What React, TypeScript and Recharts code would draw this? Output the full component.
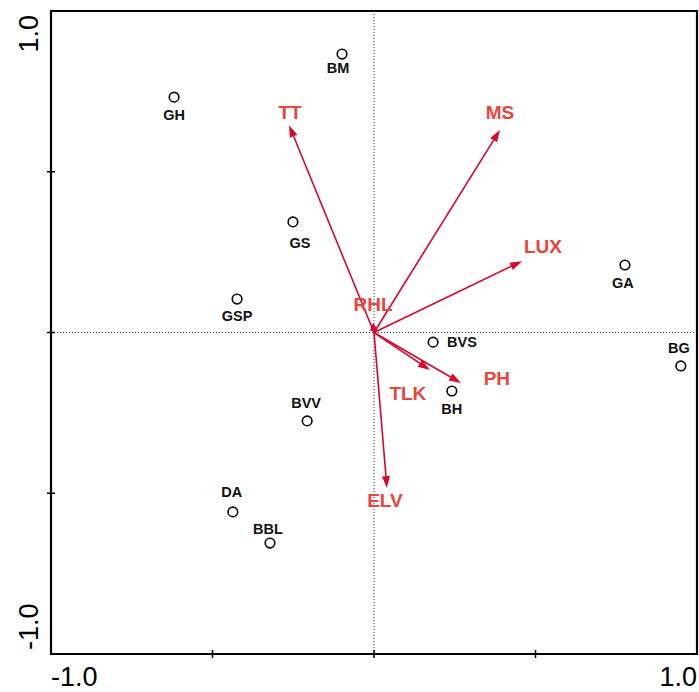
import React from 'react';
import { ScatterChart, Scatter, XAxis, YAxis, ReferenceLine, ReferenceArea } from 'recharts';

// sites (circles)
const siteNames = ['BM', 'GH', 'GS', 'GSP', 'GA', 'BG', 'BVS', 'BH', 'BVV', 'DA', 'BBL'];
const siteX = [-0.099, -0.619, -0.251, -0.424, 0.777, 0.950, 0.183, 0.241, -0.207, -0.437, -0.322];
const siteY = [0.866, 0.732, 0.344, 0.104, 0.210, -0.104, -0.030, -0.182, -0.275, -0.558, -0.655];

// environmental variables (arrows)
const envNames = ['TT', 'MS', 'LUX', 'RHL', 'PH', 'TLK', 'ELV'];
const envX = [-0.263, 0.390, 0.458, -0.003, 0.269, 0.173, 0.040];
const envY = [0.645, 0.630, 0.222, 0.030, -0.157, -0.117, -0.484];

const axisTicks = [-1, -0.5, 0, 0.5, 1];

// label placement (px offsets from the mark)
const siteLabelPos: Record<string, [number, number, string]> = {
  BM: [-4, 19, 'middle'],
  GH: [0, 23, 'middle'],
  GS: [7, 26, 'middle'],
  GSP: [0, 22, 'middle'],
  GA: [-2, 23, 'middle'],
  BG: [-2, -13, 'middle'],
  BVS: [14, 5, 'start'],
  BH: [0, 23, 'middle'],
  BVV: [-1, -13, 'middle'],
  DA: [-1, -15, 'middle'],
  BBL: [-2, -9, 'middle'],
};
const envLabelPos: Record<string, [number, number]> = {
  TT: [1, -6],
  MS: [0, -11],
  LUX: [21, -8],
  RHL: [0, -12],
  PH: [36, 2],
  TLK: [-22, 30],
  ELV: [-2, 19],
};

const sites = siteNames.map((name, i) => ({ name, x: siteX[i], y: siteY[i] }));

const ARROW = '#d7062c';
const LABEL_RED = '#e8453c';
const FONT = '"Liberation Sans", Arial, sans-serif';

const arrowShape = (name: string) => (props: any) => {
  const { x1, y1, x2, y2 } = props;
  const dx = x2 - x1;
  const dy = y2 - y1;
  const len = Math.sqrt(dx * dx + dy * dy) || 1;
  const ux = dx / len;
  const uy = dy / len;
  const head = Math.min(12, len * 0.8);
  const hw = 4;
  const bx = x2 - ux * head;
  const by = y2 - uy * head;
  const pts = `${x2},${y2} ${bx - uy * hw},${by + ux * hw} ${bx + uy * hw},${by - ux * hw}`;
  const [lx, ly] = envLabelPos[name];
  return (
    <g>
      <line x1={x1} y1={y1} x2={bx} y2={by} stroke={ARROW} strokeWidth={1.6} />
      <polygon points={pts} fill={ARROW} />
      <text x={x2 + lx} y={y2 + ly} textAnchor="middle" fontFamily={FONT} fontWeight="bold" fontSize={19} fill={LABEL_RED}>
        {name}
      </text>
    </g>
  );
};

const SiteShape = (props: any) => {
  const { cx, cy, payload } = props;
  const [dx, dy, anchor] = siteLabelPos[payload.name];
  return (
    <g>
      <circle cx={cx} cy={cy} r={4.8} fill="#fff" stroke="#000" strokeWidth={1.6} />
      <text x={cx + dx} y={cy + dy} textAnchor={anchor as any} fontFamily={FONT} fontWeight="bold" fontSize={14.5} fill="#111">
        {payload.name}
      </text>
    </g>
  );
};

const XTick = (props: any) => {
  const { x, y, payload } = props;
  const v = payload.value;
  return (
    <g>
      {Math.abs(v) < 1 && <line x1={x} y1={y - 4} x2={x} y2={y + 4} stroke="#000" strokeWidth={1.5} />}
      {Math.abs(v) === 1 && (
        <text x={x} y={y + 32} textAnchor={v < 0 ? 'start' : 'end'} fontFamily={FONT} fontSize={27} fill="#000">
          {v.toFixed(1)}
        </text>
      )}
    </g>
  );
};

const YTick = (props: any) => {
  const { x, y, payload } = props;
  const v = payload.value;
  const tx = x - 13;
  const ty = v > 0 ? y + 4 : y - 4;
  return (
    <g>
      {Math.abs(v) < 1 && <line x1={x - 4} y1={y} x2={x + 4} y2={y} stroke="#000" strokeWidth={1.5} />}
      {Math.abs(v) === 1 && (
        <text
          x={tx}
          y={ty}
          transform={`rotate(-90, ${tx}, ${ty})`}
          textAnchor={v > 0 ? 'end' : 'start'}
          fontFamily={FONT}
          fontSize={27}
          fill="#000"
        >
          {v.toFixed(1)}
        </text>
      )}
    </g>
  );
};

export default function App() {
  return (
    <div style={{ position: 'absolute', left: 0, top: 0, background: '#fff' }}>
      <ScatterChart width={699} height={692} margin={{ top: 11, right: 2, bottom: 0, left: 0 }}>
        <XAxis
          type="number"
          dataKey="x"
          domain={[-1, 1]}
          ticks={axisTicks}
          axisLine={false}
          tickLine={false}
          tickSize={0}
          tickMargin={0}
          tick={<XTick />}
          height={38}
          interval={0}
        />
        <YAxis
          type="number"
          dataKey="y"
          domain={[-1, 1]}
          ticks={axisTicks}
          axisLine={false}
          tickLine={false}
          tickSize={0}
          tickMargin={0}
          tick={<YTick />}
          width={51}
          interval={0}
        />
        <ReferenceArea x1={-1} x2={1} y1={-1} y2={1} fill="none" fillOpacity={0} stroke="#000" strokeWidth={2.2} />
        <ReferenceLine x={0} stroke="#333" strokeWidth={1} strokeDasharray="1 2" />
        <ReferenceLine y={0} stroke="#333" strokeWidth={1} strokeDasharray="1 2" />
        {envNames.map((name, i) => (
          <ReferenceLine
            key={name}
            segment={[
              { x: 0, y: 0 },
              { x: envX[i], y: envY[i] },
            ]}
            shape={arrowShape(name)}
          />
        ))}
        <Scatter data={sites} shape={<SiteShape />} isAnimationActive={false} />
      </ScatterChart>
    </div>
  );
}
